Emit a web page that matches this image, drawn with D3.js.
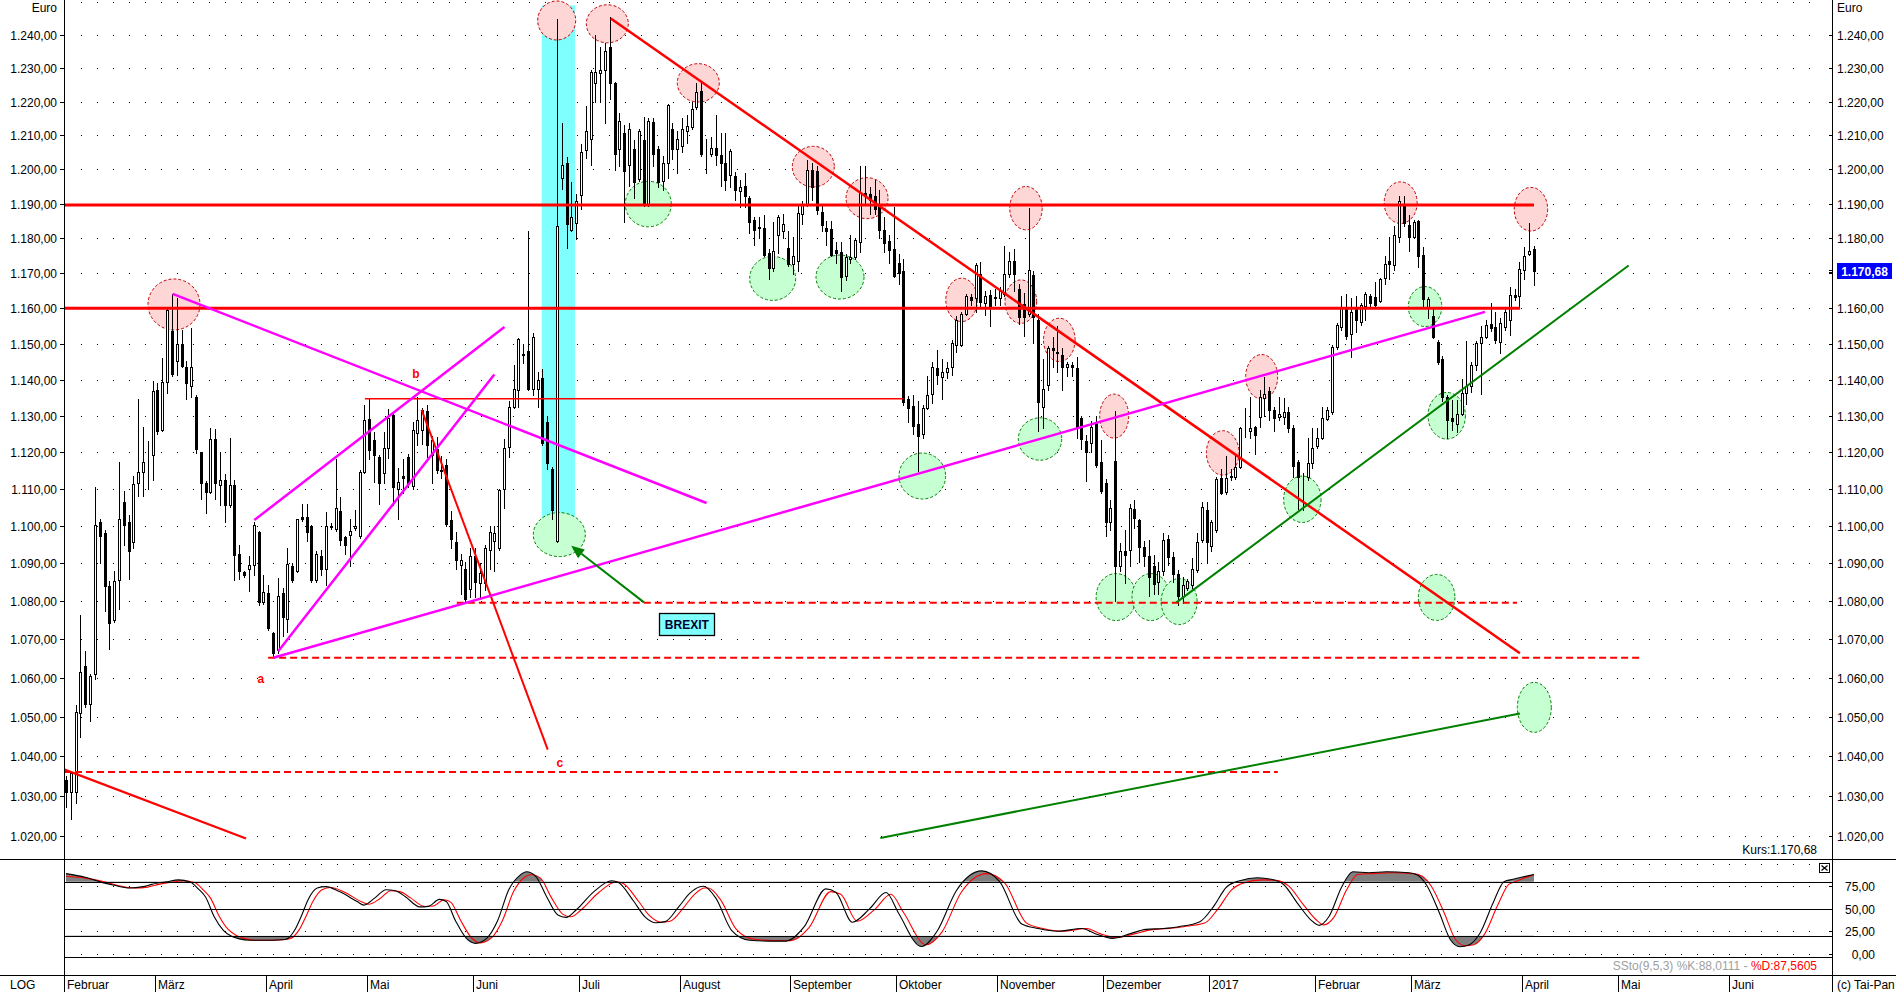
<!DOCTYPE html>
<html><head><meta charset="utf-8">
<script src="https://cdn.jsdelivr.net/npm/d3@7"></script>
<style>
html,body{margin:0;padding:0;background:#fff;overflow:hidden;}
svg{display:block;}
text{font-family:"Liberation Sans",Arial,sans-serif;font-size:12px;}
</style></head><body>
<svg id="c" width="1896" height="992"></svg>
<script>
// ---------------- DATA ----------------
const priceTicks = [1020,1030,1040,1050,1060,1070,1080,1090,1100,1110,1120,1130,1140,1150,1160,1170,1180,1190,1200,1210,1220,1230,1240];
const stochTicks = [0,25,50,75];
const stochLevels = [20,50,80];
const monthStarts = [-2,19,42,63,85,107,128,151,173,194,216,238,260,280,303,323,346];
const monthLabels = ["Februar","März","April","Mai","Juni","Juli","August","September","Oktober","November","Dezember","2017","Februar","März","April","Mai","Juni"];
const lastClose = 1170.68;
const lastK = 88.0111, lastD = 87.5605;

// daily candles [open, high, low, close], first = 3 Feb 2016
const ohlc = [
[1033.8,1035,1027,1030.8],[1030.8,1036,1024,1035.6],[1031,1053,1028,1051.2],[1051,1076.4,1044.7,1061.6],[1063,1067,1052.5,1053.3],
[1053.3,1061,1049,1060.6],[1061,1110.6,1059.6,1100.4],[1101.1,1102,1090,1097.4],[1098,1099,1077.4,1084],[1084,1085.3,1067.4,1074.4],
[1075,1088,1074.5,1085.3],[1085.6,1117.3,1078,1102],[1106.4,1109.5,1095,1100.4],[1101,1103,1086,1093.3],[1095.8,1113.6,1094,1111.3],
[1111.6,1134.5,1108,1114.6],[1114.6,1127,1108.2,1117.3],[1118,1123,1110,1118.2],[1119.1,1139.6,1112.3,1136.8],[1137.1,1139,1125,1125.7],
[1126,1146,1125.7,1139.3],[1139.3,1160,1136.4,1159.5],[1153.7,1164,1141,1141.5],[1145.2,1163,1141.3,1150],[1150,1154,1143.5,1143.8],
[1143.6,1145.2,1134.5,1139.1],[1138.3,1154.5,1135.2,1143.4],[1135.2,1135.7,1119.7,1121],[1120,1120.1,1107.3,1111.6],[1111.6,1112.1,1103.4,1109.2],
[1109.2,1126.7,1109,1123.7],[1123.6,1126.3,1107.3,1111.6],[1111.1,1120,1105.6,1112.5],[1112.5,1114,1101,1105.6],[1105.6,1124,1105,1111.1],
[1111.1,1112.5,1085.6,1092.2],[1092.5,1095,1086,1088],[1087.7,1088,1086.5,1087],[1088.6,1092,1082.6,1089.5],[1089.5,1101,1087,1100.4],
[1098.3,1098.7,1079,1079.7],[1079.7,1087,1079.4,1082.5],[1082.2,1084.3,1072.5,1073],[1071.6,1071.8,1065.5,1066.4],[1067.2,1086.2,1066.5,1081.5],
[1082.2,1083.5,1071,1075.8],[1075.3,1094,1072,1089.8],[1089.2,1090,1085,1085.6],[1088,1102,1087.7,1101.8],[1102.4,1106,1101.3,1102],
[1102.3,1106,1096,1098.3],[1099.9,1100.4,1085,1085.6],[1085.6,1093.3,1085,1092.5],[1092,1093.6,1087,1088.4],[1088.4,1103.7,1084.3,1099.9],
[1099.7,1100.8,1099.2,1099.9],[1099.1,1118,1098.7,1104.9],[1104.1,1107.8,1094.9,1096.2],[1097,1097.2,1092.5,1094.9],[1097.7,1101.8,1089.2,1098.7],
[1099.4,1104.4,1099,1099.9],[1097.2,1115.1,1096.8,1114.6],[1114.6,1132.9,1114.3,1128.9],[1129.1,1134.6,1118,1120.6],[1123.2,1125.4,1111.8,1119.1],
[1118.6,1119.1,1106,1111.6],[1114.4,1125.4,1111.6,1121.2],[1121.2,1131.9,1118.3,1129.4],[1130.1,1130.6,1105.6,1110.6],[1110,1115.6,1102,1112],
[1113.4,1118,1109,1112.9],[1118.6,1119.6,1110.6,1111.6],[1110.9,1128.2,1110,1126],[1125.2,1135.2,1122,1128.9],[1126,1132.2,1122.3,1131.6],
[1131.4,1132.9,1118.6,1122],[1119.1,1124.4,1111.6,1123.2],[1121,1124.2,1114.4,1115.1],[1115,1119,1113,1115.2],[1116.4,1118,1100,1100.6],
[1101.6,1104,1094,1096.6],[1095.6,1098.4,1088.5,1091],[1089.7,1092.6,1082,1091],[1088.4,1090.5,1080,1080.5],[1083.1,1094.2,1081,1092],
[1092,1094,1081,1085.2],[1084.7,1090,1081,1087.4],[1084.7,1095,1083,1094.2],[1093.7,1100,1088.4,1098.4],[1096,1100,1088,1098],
[1094.2,1110,1093.5,1109.8],[1110.1,1123.7,1104.8,1121.2],[1121.4,1134,1118.6,1132.3],[1132.5,1144,1132,1137.5],[1137,1151.5,1132.5,1151.3],
[1147,1150,1144.5,1147.2],[1148,1182,1137,1137.5],[1137.5,1153,1135.8,1152],[1137.5,1142,1132.5,1140],[1140.4,1143,1122,1122.6],
[1128.4,1130,1115.5,1117],[1115.5,1116,1102,1104.3],[1096,1244.7,1095.8,1183.5],[1197.5,1213.8,1194.2,1201.2],[1201.9,1203.5,1177.2,1184],
[1182.4,1196.3,1182,1186],[1184.3,1192.8,1179.8,1190.8],[1192.6,1207.6,1188.4,1205],[1205.6,1218.6,1203.3,1211.3],[1209,1229.6,1201.2,1229],
[1225.5,1240,1220,1229],[1228.7,1236.3,1220,1229.6],[1229.6,1237.5,1213.8,1235.1],[1236.3,1245.5,1220.7,1225.5],[1225.5,1226,1199.8,1204.4],
[1205.9,1216.7,1201,1214.4],[1210.7,1213.2,1184.6,1199.6],[1201.2,1213.8,1195.2,1212],[1205.9,1208.5,1191.7,1196.3],[1197.3,1212,1196.5,1211.3],
[1208.5,1215.5,1189.4,1190],[1190,1215,1189.4,1214.4],[1214,1215,1201,1204.6],[1205.9,1207,1195,1196.3],[1196.5,1203.9,1194,1201.9],
[1201.9,1219.3,1197.5,1219],[1212,1213.8,1203,1205.9],[1205.9,1211.3,1199,1208.8],[1207,1215,1205,1212],[1211.3,1216,1207.8,1212.8],
[1212.5,1220,1212,1217.8],[1218.4,1225.5,1217.8,1222.8],[1223.1,1226,1203.8,1204.6],[1205,1209,1198.8,1205.1],[1204.4,1209.5,1203.8,1206.2],
[1206.2,1216,1201.2,1204.2],[1204.2,1210.7,1195.2,1201.9],[1201.9,1210.7,1194,1196.9],[1198.5,1206,1195,1205.3],[1198,1199.2,1191.1,1194],
[1193.8,1197,1189,1195],[1195.2,1199,1189,1192.3],[1191.7,1192.3,1181.5,1184.6],[1185.4,1186,1178,1182.4],[1183,1186,1180,1183.2],
[1183,1186.6,1174.8,1175.3],[1175.9,1177,1168.3,1171.4],[1171.4,1184.6,1170.5,1176.4],[1180.9,1186.6,1175.9,1186.2],[1182,1187,1180,1184],
[1177.2,1182,1172,1172.5],[1172.7,1180.4,1169.7,1174.8],[1173.6,1189.4,1170.5,1187.3],[1187.1,1190.8,1184,1190],[1190,1202.7,1189.2,1199.8],
[1199.8,1202,1191,1195],[1199.5,1201,1187,1188.1],[1187.6,1190,1182,1183.7],[1183,1185,1178,1182],[1182.7,1185,1175,1175.3],
[1176.5,1179,1173,1175.8],[1176,1179,1165,1169],[1169.1,1175.5,1168,1174.5],[1174,1181,1173,1174.6],[1174.5,1180,1174,1179.5],
[1179,1201,1176,1193],[1193,1201,1190,1192.1],[1192.8,1195,1187,1191.1],[1192.2,1197,1187,1188.6],[1190,1194,1180,1182.3],
[1182.5,1186,1176,1178.7],[1179.2,1181,1173,1176.7],[1177,1189,1169,1169.1],[1173,1175.5,1167,1170.1],[1170.6,1174,1133,1133.8],
[1134.5,1135.4,1128.3,1132.2],[1132.7,1135.6,1125,1127.2],[1127.7,1134,1114.9,1124.3],[1125,1133,1124,1132.2],[1132.2,1141,1131.8,1135.6],
[1136,1145,1133.5,1143.5],[1143.3,1148.2,1138.8,1141.2],[1140.7,1145.7,1134.7,1142],[1142,1145,1140.5,1143.3],[1143.5,1151.2,1141.2,1150.2],
[1149.7,1157.7,1147.7,1156.8],[1149.7,1159,1149.5,1158.5],[1158.5,1164,1158,1163.4],[1163.1,1164,1161,1162.5],[1163,1172.8,1158.9,1172.3],
[1169.9,1173.3,1160.1,1161.7],[1161.4,1165,1158,1163.4],[1163.7,1165.3,1155,1160.6],[1163.3,1165.5,1161,1163],[1163,1166,1161,1164.8],
[1164,1177.7,1163.4,1169.9],[1169.9,1176,1169,1173.6],[1173.6,1177,1165,1169.9],[1165.6,1167,1155.5,1157.6],[1161.1,1164.3,1152.3,1157.6],
[1158.5,1188.7,1157.9,1171],[1169.4,1170.6,1150.2,1157.6],[1156.6,1158.5,1125.7,1133.8],[1132.5,1145.8,1126.5,1137.3],[1138.5,1149.5,1137,1148.8],
[1148.8,1152,1143.5,1148.3],[1147.8,1154.9,1142,1147.5],[1146.8,1148.8,1137,1143.5],[1143.5,1145,1141,1144.4],[1144,1145,1141,1143.5],
[1143.3,1146.3,1124,1126.5],[1129.4,1130,1121,1123.6],[1123.1,1124.7,1112.1,1120],[1122.4,1128.5,1120,1126.9],[1127.9,1130,1116,1116.5],
[1117.2,1123.4,1108.8,1109.4],[1111.5,1112.8,1097.3,1101],[1101,1107,1099,1104.8],[1117.6,1131.4,1080.1,1089.4],[1089.4,1095.5,1088,1093.3],
[1093.4,1099,1084.8,1092.3],[1093.6,1106,1089.4,1104.8],[1104.5,1107,1099.5,1102.1],[1101.5,1102,1090.5,1094.5],[1094.5,1096,1089.4,1092],
[1092,1096.2,1081.3,1086.4],[1089.4,1092.2,1082,1084.6],[1085,1090.4,1082,1088],[1088,1098,1087,1096.2],[1096.4,1097.5,1089.6,1091.6],
[1091.6,1093,1085,1087.2],[1087.2,1088.2,1079,1081.5],[1081.4,1086.5,1079.5,1084.4],[1083.6,1086,1083,1085.3],[1084.4,1091.4,1083.5,1088.6],
[1088.2,1098,1087.7,1095.7],[1096.2,1106.5,1095.7,1105.2],[1104.2,1106.5,1090,1095.6],[1094.7,1101.7,1093.3,1101.2],[1099,1113.2,1098.3,1112.6],
[1112.9,1115.3,1108.5,1108.9],[1109.3,1119,1108.7,1112.9],[1113.2,1115.3,1112.5,1113.4],[1113.3,1119,1112.8,1116],[1116,1127,1115.6,1126.5],
[1125.7,1132,1124.2,1125.9],[1125.8,1135.2,1124,1126.5],[1126.8,1127.2,1119.5,1124.7],[1129.7,1137.2,1126.9,1135.1],[1134.8,1140.6,1129.8,1136],
[1136.9,1138,1128.9,1131.7],[1131.7,1132.4,1125.9,1129.5],[1129.7,1135.2,1128.9,1130.6],[1129.7,1134.8,1127.8,1131.1],[1131.1,1132.4,1125.5,1126.5],
[1126.5,1127.4,1113.3,1116.2],[1117.4,1117.8,1104.5,1113.3],[1113.5,1114.2,1104.2,1113.6],[1113.1,1123.9,1112.4,1117.1],[1117,1126.6,1115.6,1121.1],
[1121.6,1126.6,1121.2,1123.9],[1123.9,1132.4,1123.5,1129.5],[1129,1132.4,1128.8,1131.5],[1131,1149.6,1130.5,1149.1],[1149.1,1155.8,1148.6,1155.3],
[1154.8,1163.6,1153.8,1160.2],[1159.7,1164,1151.3,1152.3],[1152.8,1163,1146.3,1159.1],[1160.3,1163.5,1153.3,1156.6],[1156.1,1161.6,1155.3,1160.9],
[1160.6,1164.5,1156.8,1164],[1163.6,1164,1160.6,1161.4],[1163.1,1167.5,1160.3,1160.9],[1162.2,1168.6,1161.8,1168.3],[1168.5,1174.9,1167,1172.6],
[1173.6,1180.4,1168.2,1172.6],[1172.3,1183.4,1171,1180.9],[1180.4,1192.3,1179,1190.7],[1190,1192.3,1183.4,1184.4],[1183.7,1186.7,1176.3,1180.4],
[1180.4,1185.4,1180.2,1184.7],[1185,1185.4,1171.9,1174.9],[1175.1,1177.4,1160.2,1162.6],[1160.2,1163.1,1157.4,1162.6],[1157.7,1160.2,1151.7,1151.9],
[1150.5,1151,1144.4,1144.9],[1145.8,1146.5,1134.2,1135.2],[1135.2,1135.6,1123.8,1128.7],[1129.5,1134.3,1126,1128.5],[1127.8,1134.3,1125.6,1130.6],
[1130.6,1140.3,1130.3,1136.2],[1136.2,1150.7,1133.3,1138.1],[1138.1,1145,1136.5,1144.2],[1144.2,1150.7,1142.6,1150.2],[1150.2,1155,1136,1152],
[1152,1156.8,1151.6,1155.3],[1155.6,1161.5,1153.7,1154.4],[1154.8,1158.9,1150.3,1151.1],[1150.5,1157.3,1147.3,1155.8],[1154.8,1160,1154,1158.9],
[1156.8,1166,1152.6,1163.7],[1163.9,1165.5,1162.4,1163.1],[1163.4,1173.3,1160.2,1171.2],[1171,1177.6,1168.3,1174.8],[1175.4,1184.5,1175.2,1176.4],
[1176.9,1177.8,1166.7,1170.68]
];

// Slow stochastic readings [candle index, value]
const stochK = [
[0,89],[4,85],[7.6,79],[10,76],[13.2,73],[16,74.5],[17.8,77],[21,80],[23.4,82],[25.7,80],[27.5,72],[29,63],[30.8,41],[32.7,26],[34.5,19],[36,16.5],[38.2,15],[42,15],[44,15.2],[45.7,16],[47.5,26],[49,43],[50.3,60],[52.2,73],[54,74.5],[56.8,69],[60.5,58],[61.9,54],[64.2,62],[66.5,71],[68.4,70],[70.6,63],[73.5,52],[75.3,52.6],[77.6,60.4],[79,58],[80.9,37],[83.2,17],[85.1,11.5],[87.4,17],[89.7,37],[92,71],[94.3,87],[95.7,91],[97.6,86],[99.9,63],[102.2,43],[103.9,40.4],[106,48.6],[109.7,69],[113.4,81],[114.8,79],[118,58],[120.3,41],[122.6,34.4],[124.5,35.6],[127.3,52],[129.6,67],[131.7,74.4],
[132.5,75],[135,62],[138.3,26],[142,15],[146,14],[149.6,14],[153.4,30],[157.9,72],[160,68],[163.4,35],[167,50],[170.4,68],[173,45],[177.7,8],[181,25],[185,70],[190.3,92],[194,80],[198.6,33],[202,28],[206.1,25],[211.1,28],[214,22],[217.4,17],[221,22],[224.4,27],[228,28],[231.2,30],
[235.6,35.6],[238.4,52],[241.2,74.4],[243.9,81],[247.6,84.4],[250.4,82.7],[253.1,76.3],[255.9,56],[258.7,37.4],[260.4,31.5],[262.4,41],[265.1,74.4],[267.4,91],[270.7,90],[274.4,91],[279,90],[280.8,87.4],[282.7,76.3],[285.4,45],[287.7,15.2],[289.6,7.8],[291.5,9.7],[293.8,22.7],[296.5,56],[298.8,80],[300.7,82.7],[303,85.6],[305,88.01]
];
const stochD = [
[0,86],[4,84],[8.6,79],[11,75.5],[14.2,73],[17,74],[18.8,76.5],[22,79.5],[24.4,81],[26.7,79],[28.5,71],[30,62],[31.8,42],[33.7,27],[35.5,20],[37,17],[39.2,15],[43,15],[45,15.5],[46.7,17],[48.5,27],[50,43],[51.3,58],[53.2,71],[55,73.5],[57.8,68.5],[61.5,57.5],[62.9,55],[65.2,61],[67.5,70],[69.4,69],[71.6,62],[74.5,52.5],[76.3,53],[78.6,60],[80,57],[81.9,38],[84.2,18],[86.1,12],[88.4,17.5],[90.7,37],[93,69],[95.3,85],[96.7,88],[98.6,84],[100.9,62],[103.2,44],[104.9,41],[107,48.5],[110.7,68],[114.4,80],[115.8,78],[119,58],[121.3,42],[123.6,35],[125.5,36],[128.3,51],[130.6,66],[132.7,73],
[133.5,73],[136,60],[139.3,27],[143,16],[147,14.5],[150.6,14.5],[154.4,29],[158.9,69],[161,66],[164.4,36],[168,49],[171.4,66],[174,46],[178.7,10],[182,24],[186,68],[191.3,89],[195,79],[199.6,34],[203,28],[207.1,25],[212.1,28],[215,22],[218.4,18],[222,22],[225.4,26.5],[229,28],[232.2,30],
[236.6,34],[239.4,50],[242.2,71],[244.9,79],[248.6,82],[251.4,81.5],[254.1,75],[256.9,56],[259.7,38],[261.4,32],[263.4,40],[266.1,71],[268.4,88],[271.7,89],[275.4,90],[280,89],[281.8,86],[283.7,75],[286.4,45],[288.7,16],[290.6,9],[292.5,10],[294.8,22],[297.5,54],[299.8,77],[301.7,81],[303.5,85],[305,87.56]
];

// drawn annotations (candle index, price)
const hLinesThick = [[1189.6,-0.42,305.04],[1160,-0.42,302.1]];
const hLineThin = [[1134.7,62.1,174.0]];
const hLinesDashed = [[1065.2,42.0,327.1],[1079.6,81.2,301.5],[1035.9,-0.42,251.8]];
const redTrends = [[[-0.42,1036.6],[37.4,1019.25],2.2],[[113.2,1245.0],[302.1,1066.4],2.5],[[73.9,1131.6],[100.1,1041.6],2]];
const magentaLines = [[[22.17,1164.1],[133.1,1106.2]],[[39.13,1101.6],[91.1,1154.7]],[[44.1,1066.9],[89.0,1141.4]],[[43.07,1065.2],[294.86,1159.0]]];
const greenLines = [[[230.75,1079.7],[324.7,1172.2]],[[169.2,1019.4],[302.1,1050.8]]];
const greenArrow = [[120.1,1079.7],[104.97,1094.7]];
const brexitBand = [98.85,105.76,1249,1096.6];
const brexitLabel = ["BREXIT",129.0,1073.9];
const waveLabels = [["a",40.5,1059.6],["b",72.7,1141.7],["c",102.6,1038.2]];
const pinkCircles = [[22.44,1161.1,26,25.5],[101.96,1244.4,19,19.5],[112.48,1243.4,21,19],[131.38,1225.6,21,19.2],[155.28,1200.8,21,20.3],[166.44,1191.6,21,20.5],[199.47,1188.7,16.2,21.7],[186.1,1162.4,15.8,21.7],[198.4,1161.9,15.8,21.7],[206.4,1151.1,15.8,21.7],[217.8,1129.9,14.5,22],[240.35,1119.8,16.3,22.2],[248.45,1140.8,16,22.2],[277.33,1190.3,16.5,20.8],[304.4,1188.4,16.7,21.8]];
const greenCircles = [[102.5,1097.7,26,22],[121.0,1189.9,23,22.8],[146.84,1168.5,23,22],[160.83,1168.9,24,22],[177.93,1113.5,23.3,23],[202.39,1123.6,21.7,21.2],[218.2,1081.1,20,23.5],[225.45,1081.1,19,23.5],[231.3,1079.9,18,23],[256.9,1107.2,18.7,23.2],[282.4,1160.5,16.7,20],[286.9,1130.0,18.7,23.3],[284.8,1081.0,18.3,23],[305.1,1052.4,17,25]];

// ---------------- LAYOUT ----------------
const L = 64, R = 1832, PB = 859, SB = 957, XA = 975, H = 992, W = 1896;
const step = 4.8126;
const x = d3.scaleLinear().domain([0,1]).range([66, 66 + step]);
const y = d3.scaleLog().domain([1020,1240]).range([835.5, 35]);
const ys = d3.scaleLinear().domain([0,100]).range([953.7, 863.7]);
const locale = d3.formatLocale({decimal:",", thousands:".", grouping:[3], currency:["","€"]});
const fmt2 = locale.format(",.2f"), fmt4 = locale.format(",.4f");

const svg = d3.select("#c");
svg.append("rect").attr("width",W).attr("height",H).attr("fill","#fff");
const defs = svg.append("defs");
defs.append("clipPath").attr("id","pclip").append("rect").attr("x",L+1).attr("y",0).attr("width",R-L-1).attr("height",PB);
defs.append("clipPath").attr("id","sclipTop").append("rect").attr("x",L+1).attr("y",PB+1).attr("width",R-L-1).attr("height",ys(80)-PB-1);
defs.append("clipPath").attr("id","sclipBot").append("rect").attr("x",L+1).attr("y",ys(20)).attr("width",R-L-1).attr("height",SB-ys(20));

// dotted grid
const dotXs = d3.range(81, R-16, 16);
const gGrid = svg.append("g").attr("shape-rendering","crispEdges");
const priceGrid = d3.range(1020, 1251, 10);
priceGrid.forEach(v => {
  const yy = Math.round(y(v));
  gGrid.selectAll(null).data(dotXs).join("rect").attr("x",d=>d).attr("y",yy).attr("width",1).attr("height",1).attr("fill","#000");
});
[0,25,75,100].forEach(v => {
  const yy = Math.round(ys(v));
  gGrid.selectAll(null).data(dotXs).join("rect").attr("x",d=>d).attr("y",yy).attr("width",1).attr("height",1).attr("fill","#000");
});

// price panel content
const gP = svg.append("g").attr("clip-path","url(#pclip)");
gP.append("rect").attr("x",x(brexitBand[0])).attr("y",y(brexitBand[2])).attr("width",x(brexitBand[1])-x(brexitBand[0])).attr("height",y(brexitBand[3])-y(brexitBand[2])).attr("fill","#80ffff");

gP.selectAll(".pc").data(pinkCircles).join("ellipse").attr("cx",d=>x(d[0])).attr("cy",d=>y(d[1])).attr("rx",d=>d[2]).attr("ry",d=>d[3])
  .attr("fill","#ffd6d6").attr("stroke","#c00000").attr("stroke-width",1).attr("stroke-dasharray","3,2");
gP.selectAll(".gc").data(greenCircles).join("ellipse").attr("cx",d=>x(d[0])).attr("cy",d=>y(d[1])).attr("rx",d=>d[2]).attr("ry",d=>d[3])
  .attr("fill","#c6ffd2").attr("stroke","#008000").attr("stroke-width",1).attr("stroke-dasharray","3,2");

// candles
const gC = gP.append("g").attr("shape-rendering","crispEdges");
const cand = gC.selectAll("g").data(ohlc).join("g");
cand.append("line")
  .attr("x1",(d,i)=>Math.round(x(i))+0.5).attr("x2",(d,i)=>Math.round(x(i))+0.5)
  .attr("y1",d=>Math.round(y(d[1]))).attr("y2",d=>Math.round(y(d[2]))+1).attr("stroke","#000");
cand.append("rect")
  .attr("x",(d,i)=>Math.round(x(i))-0.5)
  .attr("y",d=>Math.round(y(Math.max(d[0],d[3])))+0.5)
  .attr("width",2)
  .attr("height",d=>Math.max(0, Math.round(y(Math.min(d[0],d[3]))) - Math.round(y(Math.max(d[0],d[3])))))
  .attr("fill",d=>d[3]>=d[0]?"#fff":"#000").attr("stroke","#000");

// lines
const line2 = (g, p0, p1, col, w, dash) => {
  const l = g.append("line").attr("x1",x(p0[0])).attr("y1",y(p0[1])).attr("x2",x(p1[0])).attr("y2",y(p1[1]))
    .attr("stroke",col).attr("stroke-width",w);
  if (dash) l.attr("stroke-dasharray",dash);
  return l;
};
hLinesThick.forEach(d => line2(gP,[d[1],d[0]],[d[2],d[0]],"#ff0000",3));
hLineThin.forEach(d => line2(gP,[d[1],d[0]],[d[2],d[0]],"#ff0000",1.6));
hLinesDashed.forEach(d => line2(gP,[d[1],d[0]],[d[2],d[0]],"#ff0000",2,"7,4"));
redTrends.forEach(d => line2(gP,d[0],d[1],"#ff0000",d[2]));
magentaLines.forEach(d => line2(gP,d[0],d[1],"#ff00ff",2.5));
greenLines.forEach(d => line2(gP,d[0],d[1],"#008000",2));
// arrow
{
  const [t,h] = greenArrow;
  const x0=x(t[0]), y0=y(t[1]), x1=x(h[0]), y1=y(h[1]);
  const ang = Math.atan2(y1-y0, x1-x0), len=13, hw=5.5;
  const bx = x1 - len*Math.cos(ang), by = y1 - len*Math.sin(ang);
  gP.append("line").attr("x1",x0).attr("y1",y0).attr("x2",bx).attr("y2",by).attr("stroke","#008000").attr("stroke-width",2);
  gP.append("path").attr("d",`M${x1},${y1}L${bx+hw*Math.sin(ang)},${by-hw*Math.cos(ang)}L${bx-hw*Math.sin(ang)},${by+hw*Math.cos(ang)}Z`).attr("fill","#008000");
}
// BREXIT label
{
  const cx = x(brexitLabel[1]), cy = y(brexitLabel[2]);
  gP.append("rect").attr("x",Math.round(cx-27.5)+0.5).attr("y",Math.round(cy-11)+0.5).attr("width",55).attr("height",22)
    .attr("fill","#80ffff").attr("stroke","#000").attr("stroke-width",1.3);
  gP.append("text").attr("x",cx).attr("y",cy+4.5).attr("text-anchor","middle").attr("font-weight","bold").attr("fill","#000033").text(brexitLabel[0]);
}
gP.selectAll(".wl").data(waveLabels).join("text").attr("x",d=>x(d[1])).attr("y",d=>y(d[2])+4).attr("text-anchor","middle")
  .attr("fill","#ff0000").attr("font-weight","bold").attr("font-size","12px").text(d=>d[0]);

// ---------------- STOCHASTIC ----------------
const gS = svg.append("g");
const kLine = d3.line().x(d=>x(d[0])).y(d=>ys(d[1])).curve(d3.curveMonotoneX);
const fillArea = (data, lvl) => d3.area().x(d=>x(d[0])).y0(ys(lvl)).y1(d=>ys(d[1])).curve(d3.curveMonotoneX)(data);
[stochK, stochD].forEach(s => {
  gS.append("path").attr("d",fillArea(s,80)).attr("fill","#808080").attr("clip-path","url(#sclipTop)");
  gS.append("path").attr("d",fillArea(s,20)).attr("fill","#808080").attr("clip-path","url(#sclipBot)");
});
const gSL = svg.append("g").attr("shape-rendering","crispEdges");
stochLevels.forEach(v => gSL.append("line").attr("x1",L).attr("x2",R).attr("y1",Math.round(ys(v))+0.5).attr("y2",Math.round(ys(v))+0.5).attr("stroke","#000"));
gS.append("path").attr("d",kLine(stochD)).attr("fill","none").attr("stroke","#ff0000").attr("stroke-width",1.1);
gS.append("path").attr("d",kLine(stochK)).attr("fill","none").attr("stroke","#000").attr("stroke-width",1.1);

// ---------------- FRAME & AXES ----------------
const gF = svg.append("g").attr("shape-rendering","crispEdges");
gF.append("line").attr("x1",L+0.5).attr("x2",L+0.5).attr("y1",0).attr("y2",H).attr("stroke","#000");
gF.append("line").attr("x1",R+0.5).attr("x2",R+0.5).attr("y1",0).attr("y2",H).attr("stroke","#000");
gF.append("line").attr("x1",0).attr("x2",W).attr("y1",PB+0.5).attr("y2",PB+0.5).attr("stroke","#000");
gF.append("line").attr("x1",L).attr("x2",R).attr("y1",SB+0.5).attr("y2",SB+0.5).attr("stroke","#000");
gF.append("line").attr("x1",0).attr("x2",W).attr("y1",XA+0.5).attr("y2",XA+0.5).attr("stroke","#000");

const gT = svg.append("g");
const tagY = Math.round(y(lastClose));
// price ticks + labels (both sides); the right label next to the last-price tag is covered by the tag
priceTicks.forEach(v => {
  const yy = Math.round(y(v));
  gF.append("line").attr("x1",L-4).attr("x2",L).attr("y1",yy+0.5).attr("y2",yy+0.5).attr("stroke","#000");
  gF.append("line").attr("x1",R-3).attr("x2",R).attr("y1",yy+0.5).attr("y2",yy+0.5).attr("stroke","#000");
  gT.append("text").attr("x",57).attr("y",yy+4.5).attr("text-anchor","end").attr("fill","#000").text(fmt2(v));
  if (Math.abs(yy - tagY) > 14)
    gT.append("text").attr("x",1837).attr("y",yy+4.5).attr("text-anchor","start").attr("fill","#000").text(fmt2(v));
});
gT.append("text").attr("x",57).attr("y",12).attr("text-anchor","end").text("Euro");
gT.append("text").attr("x",1837).attr("y",12).attr("text-anchor","start").text("Euro");

// last price tag
{
  const yy = tagY;
  gF.append("line").attr("x1",R-3).attr("x2",R).attr("y1",yy-0.5).attr("y2",yy-0.5).attr("stroke","#000");
  gF.append("line").attr("x1",R-3).attr("x2",R).attr("y1",yy+1.5).attr("y2",yy+1.5).attr("stroke","#000");
  gT.append("rect").attr("x",1837).attr("y",yy-8).attr("width",55).attr("height",16).attr("fill","#0000ff");
  gT.append("text").attr("x",1864.5).attr("y",yy+4.5).attr("text-anchor","middle").attr("fill","#fff").attr("font-weight","bold").attr("font-size","13px").text(fmt2(lastClose));
  gT.append("text").attr("x",1817).attr("y",854).attr("text-anchor","end").text("Kurs:" + fmt2(lastClose));
}

// stochastic axis
stochTicks.forEach(v => {
  const yy = Math.round(ys(v));
  gF.append("line").attr("x1",R-3).attr("x2",R).attr("y1",yy+0.5).attr("y2",yy+0.5).attr("stroke","#000");
  gT.append("text").attr("x",1875).attr("y",yy+4.5).attr("text-anchor","end").text(fmt2(v));
});
// close box
{
  const bx = 1819.5, by = 863.5;
  gF.append("rect").attr("x",bx).attr("y",by).attr("width",10).attr("height",9).attr("fill","#fff").attr("stroke","#000");
  svg.append("path").attr("d",`M${bx+2},${by+2}L${bx+8},${by+7}M${bx+8},${by+2}L${bx+2},${by+7}`).attr("stroke","#000").attr("stroke-width",1.3);
}
// stochastic legend
{
  const t = gT.append("text").attr("x",1817).attr("y",970).attr("text-anchor","end");
  t.append("tspan").attr("fill","#a0a0a0").text("SSto(9,5,3) %K:" + fmt4(lastK) + " - ");
  t.append("tspan").attr("fill","#ff0000").text("%D:" + fmt4(lastD));
}

// x-axis months
gT.append("text").attr("x",10).attr("y",989).attr("font-size","13px").text("LOG");
monthStarts.forEach((m,k) => {
  const bx = Math.max(L, Math.round(x(m - 0.5)));
  gF.append("line").attr("x1",bx+0.5).attr("x2",bx+0.5).attr("y1",XA).attr("y2",H).attr("stroke","#000");
  gT.append("text").attr("x",bx+3).attr("y",989).text(monthLabels[k]);
});
gT.append("text").attr("x",1837).attr("y",989).text("(c) Tai-Pan");
</script>
</body></html>
